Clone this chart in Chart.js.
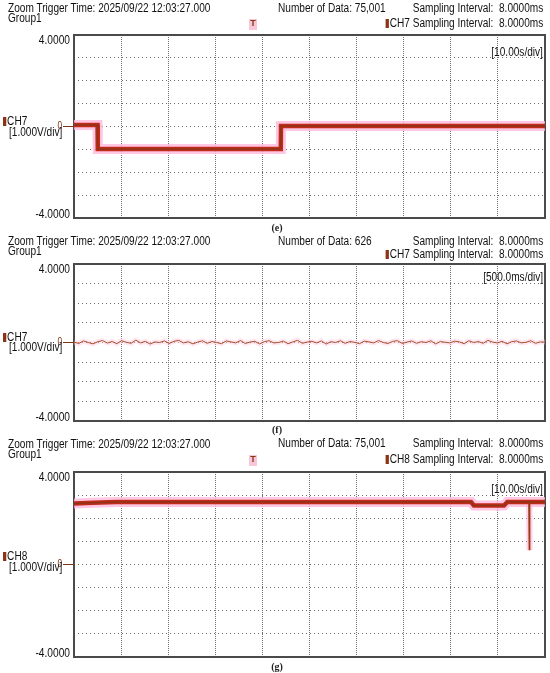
<!DOCTYPE html>
<html>
<head>
<meta charset="utf-8">
<script src="https://cdn.jsdelivr.net/npm/chart.js@4.4.1/dist/chart.umd.min.js"></script>
<style>
body { margin: 0; background: #fff; }
#page { position: relative; width: 550px; height: 673px; overflow: hidden; font-family: "Liberation Sans", Arial, sans-serif; }
canvas { position: absolute; left: 0; }
.t { position: absolute; font-size: 12.3px; line-height: 12px; color: #111; white-space: nowrap; transform: scaleX(0.82); transform-origin: left center; }
.r { transform-origin: right center; right: 7px; }
.sq { display: inline-block; width: 4px; height: 9px; background: #8c3414; margin-right: 1px; vertical-align: -1px; }
.cap { position: absolute; left: 0; width: 554px; text-align: center; font-family: "Liberation Serif", serif; font-weight: bold; font-size: 10px; color: #222; }
.trig { position: absolute; width: 8px; height: 11px; background: #f7c6d8; color: #8c3414; font-size: 9px; line-height: 9px; text-align: center; font-weight: bold; }
</style>
</head>
<body>
<div id="page">
  <canvas id="chartE" width="550" height="225" style="top:0px"></canvas>
  <canvas id="chartF" width="550" height="215" style="top:225px"></canvas>
  <canvas id="chartG" width="550" height="233" style="top:440px"></canvas>

  <!-- (e) -->
  <div class="t" style="left:8px;top:2px">Zoom Trigger Time: 2025/09/22 12:03:27.000</div>
  <div class="t" style="left:8px;top:12px">Group1</div>
  <div class="t" style="left:278px;top:2px">Number of Data: 75,001</div>
  <div class="t r" style="top:2px">Sampling Interval:&nbsp; 8.0000ms</div>
  <div class="t r" style="top:17px"><span class="sq"></span>CH7 Sampling Interval:&nbsp; 8.0000ms</div>
  <div class="t r" style="top:46px">[10.00s/div]</div>
  <div class="t" style="left:3px;top:115px"><span class="sq"></span>CH7</div>
  <div class="t" style="left:9px;top:126px">[1.000V/div]</div>
  <div class="trig" style="left:249px;top:19px">T</div>
  <div class="cap" style="top:222px">(e)</div>

  <!-- (f) -->
  <div class="t" style="left:8px;top:235px">Zoom Trigger Time: 2025/09/22 12:03:27.000</div>
  <div class="t" style="left:8px;top:245px">Group1</div>
  <div class="t" style="left:278px;top:235px">Number of Data: 626</div>
  <div class="t r" style="top:235px">Sampling Interval:&nbsp; 8.0000ms</div>
  <div class="t r" style="top:248px"><span class="sq"></span>CH7 Sampling Interval:&nbsp; 8.0000ms</div>
  <div class="t r" style="top:271px">[500.0ms/div]</div>
  <div class="t" style="left:3px;top:331px"><span class="sq"></span>CH7</div>
  <div class="t" style="left:9px;top:341px">[1.000V/div]</div>
  <div class="cap" style="top:424px">(f)</div>

  <!-- (g) -->
  <div class="t" style="left:8px;top:438px">Zoom Trigger Time: 2025/09/22 12:03:27.000</div>
  <div class="t" style="left:8px;top:448px">Group1</div>
  <div class="t" style="left:278px;top:437px">Number of Data: 75,001</div>
  <div class="t r" style="top:437px">Sampling Interval:&nbsp; 8.0000ms</div>
  <div class="t r" style="top:453px"><span class="sq"></span>CH8 Sampling Interval:&nbsp; 8.0000ms</div>
  <div class="t r" style="top:483px">[10.00s/div]</div>
  <div class="t" style="left:3px;top:550px"><span class="sq"></span>CH8</div>
  <div class="t" style="left:9px;top:561px">[1.000V/div]</div>
  <div class="trig" style="left:249px;top:455px">T</div>
  <div class="cap" style="top:661px">(g)</div>
</div>

<script>
// (e) CH7, 10 s/div
const eTime = [0, 5.0, 5.05, 43.9, 43.95, 100];
const eVolt = [0.07, 0.07, -0.98, -0.98, 0.02, 0.02];

// (f) CH7 zoomed, 500 ms/div
const fSpan = 5;
const fVolt = [
  0.02, -0.05, 0.08, 0.00, -0.07, 0.04, 0.10, -0.03, 0.05, -0.06,
  0.09, 0.01, -0.04, 0.12, -0.02, 0.06, -0.08, 0.03, 0.00, 0.08,
  -0.05, 0.06, 0.11, -0.02, 0.04, -0.07, 0.02, 0.09, -0.04, 0.05,
  0.00, -0.06, 0.08, 0.03, -0.02, 0.10, -0.05, 0.02, 0.06, -0.07,
  0.04, 0.09, -0.02, 0.00, 0.07, -0.06, 0.03, 0.11, -0.04, 0.02,
  0.06, -0.02, 0.08, -0.08, 0.04, 0.00, 0.09, -0.04, 0.05, 0.01,
  -0.06, 0.07, 0.03, -0.02, 0.10, 0.00, -0.05, 0.06, 0.09, -0.05,
  0.02, 0.08, -0.04, 0.04, 0.00, 0.09, -0.07, 0.05, 0.01, -0.02,
  0.07, 0.03, -0.06, 0.09, 0.00, 0.05, -0.04, 0.11, 0.02, -0.02,
  0.06, -0.07, 0.04, 0.08, -0.02, 0.01, 0.09, -0.04, 0.03, 0.02
];

// (g) CH8, 10 s/div; the short glitch near 96.7 s is drawn thin
const gTime = [0, 4, 9, 84.3, 84.9, 91.3, 92.0, 100];
const gVolt = [2.64, 2.67, 2.70, 2.70, 2.55, 2.55, 2.70, 2.70];
const gSpikeTime = [96.62, 96.68, 96.74];
const gSpikeVolt = [2.70, 0.62, 2.70];

const toPoints = (xs, ys) => ys.map((v, i) => ({ x: xs[i], y: v }));

function narrowText(ctx, text, x, y, align, baseline) {
    ctx.save();
    ctx.translate(x, y);
    ctx.scale(0.83, 1);
    ctx.textAlign = align;
    ctx.textBaseline = baseline;
    ctx.fillText(text, 0, 0);
    ctx.restore();
}

const scopeDecor = {
    id: 'scopeDecor',
    beforeDatasetsDraw(chart) {
        const { ctx, chartArea: a } = chart;
        ctx.save();
        ctx.strokeStyle = '#4a4a4a';
        ctx.lineWidth = 2;
        ctx.strokeRect(a.left, a.top, a.right - a.left, a.bottom - a.top);
        ctx.restore();
    },
    afterDraw(chart) {
        const { ctx, chartArea: a } = chart;
        const y = chart.scales.y;
        ctx.save();
        ctx.fillStyle = '#111';
        ctx.font = '12.3px "Liberation Sans", Arial, sans-serif';
        narrowText(ctx, y.max.toFixed(4), 70, a.top - 0.5, 'right', 'top');
        narrowText(ctx, y.min.toFixed(4), 70, a.bottom - 0.5, 'right', 'alphabetic');
        // zero-level marker
        const z = y.getPixelForValue(0);
        ctx.strokeStyle = '#7a3416';
        ctx.lineWidth = 1;
        ctx.beginPath();
        ctx.moveTo(63, z);
        ctx.lineTo(a.left, z);
        ctx.stroke();
        ctx.fillStyle = '#7a3416';
        ctx.font = '10px "Liberation Sans", Arial, sans-serif';
        narrowText(ctx, '0', 62, z, 'right', 'middle');
        ctx.restore();
    }
};

function scopeChart(id, xMax, pad, datasets) {
    return new Chart(document.getElementById(id), {
        type: 'line',
        data: { datasets: datasets },
        options: {
            responsive: false,
            animation: false,
            layout: { padding: { left: 74, right: 5, top: pad[0], bottom: pad[1] } },
            elements: { point: { radius: 0 }, line: { tension: 0 } },
            plugins: {
                legend: { display: false },
                tooltip: { enabled: false }
            },
            scales: {
                x: {
                    type: 'linear', min: 0, max: xMax,
                    ticks: { display: false, stepSize: xMax / 10 },
                    grid: { color: '#707070', lineWidth: 1, drawTicks: false },
                    border: { display: false, dash: [1, 1] },
                    afterFit(s) { s.height = 0; }
                },
                y: {
                    min: -4, max: 4,
                    ticks: { display: false, stepSize: 1 },
                    grid: { color: '#6a6a6a', lineWidth: 1, drawTicks: false },
                    border: { display: false, dash: [1, 3] },
                    afterFit(s) { s.width = 0; }
                }
            }
        },
        plugins: [scopeDecor]
    });
}

// first dataset is painted on top, so the core goes first and the glow last
function thickTrace(points) {
    return [
        { data: points, borderColor: '#8e3416', borderWidth: 1.5 },
        { data: points, borderColor: '#c22a1c', borderWidth: 4.5 },
        { data: points, borderColor: 'rgba(255,185,220,0.8)', borderWidth: 10 }
    ];
}

scopeChart('chartE', 100, [35, 7], thickTrace(toPoints(eTime, eVolt)));

const fPoints = fVolt.map((v, i) => ({ x: i * fSpan / (fVolt.length - 1), y: v }));
scopeChart('chartF', fSpan, [39, 19], [
    { data: fPoints, borderColor: '#a8502c', borderWidth: 1 },
    { data: fPoints, borderColor: 'rgba(255,200,225,0.45)', borderWidth: 5 }
]);

const gSpike = toPoints(gSpikeTime, gSpikeVolt);
scopeChart('chartG', 100, [32, 16], [
    { data: gSpike, borderColor: '#9a3a18', borderWidth: 1.8 },
    ...thickTrace(toPoints(gTime, gVolt)),
    { data: gSpike, borderColor: 'rgba(255,190,222,0.7)', borderWidth: 6 }
]);
</script>
</body>
</html>
